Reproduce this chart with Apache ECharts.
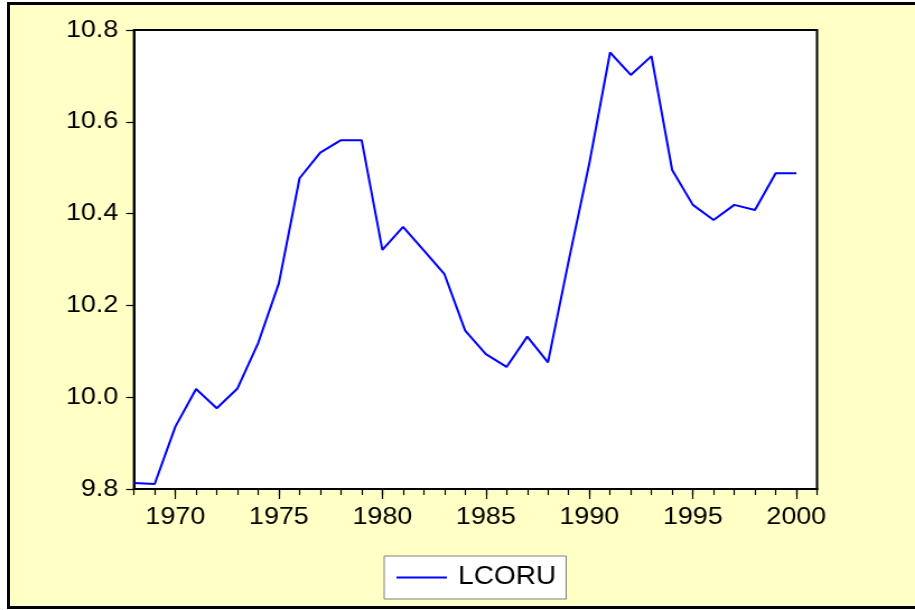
<!DOCTYPE html>
<html>
<head>
<meta charset="utf-8">
<script src="https://cdn.jsdelivr.net/npm/echarts@6/dist/echarts.min.js"></script>
<style>
  html, body { margin: 0; padding: 0; background: #ffffff; overflow: hidden; }
  #frame {
    position: absolute; left: 7px; top: 2px; width: 930px; height: 607px;
    box-sizing: border-box; border: 3px solid #000; background: #FFFFC6;
  }
  /* the chart is laid out at a narrower width and stretched horizontally */
  #chart {
    position: absolute; left: 0; top: 0; width: 817px; height: 610px;
    transform: scaleX(1.12); transform-origin: 0 0;
  }
</style>
</head>
<body>
<div id="frame"></div>
<div id="chart"></div>
<script>
// Annual observations of LCORU
const years = [1968, 1969, 1970, 1971, 1972, 1973, 1974, 1975, 1976, 1977, 1978,
  1979, 1980, 1981, 1982, 1983, 1984, 1985, 1986, 1987, 1988, 1989, 1990, 1991,
  1992, 1993, 1994, 1995, 1996, 1997, 1998, 1999, 2000];
const lcoru = [9.813, 9.811, 9.936, 10.018, 9.976, 10.019, 10.118, 10.248, 10.477,
  10.533, 10.560, 10.560, 10.321, 10.371, 10.320, 10.268, 10.145, 10.094, 10.066,
  10.132, 10.076, 10.297, 10.510, 10.751, 10.702, 10.743, 10.495, 10.419, 10.386,
  10.419, 10.408, 10.488, 10.488];
const seriesName = 'LCORU';

// axis tick labels
const xLabelYears = [1970, 1975, 1980, 1985, 1990, 1995, 2000];
const xMinorYears = [];
for (let y = 1968; y <= 2001; y++) xMinorYears.push(y);
const yMin = 9.8, yMax = 10.8, yStep = 0.2;
const xMin = 1968, xMax = 2001;

const fontFamily = '"Liberation Sans", Arial, sans-serif';
const chart = echarts.init(document.getElementById('chart'), null, { renderer: 'canvas' });

const baseX = {
  type: 'value', min: xMin, max: xMax, position: 'bottom',
  axisLine: { show: true, lineStyle: { color: '#000', width: 2 } },
  splitLine: { show: false }
};

chart.setOption({
  animation: false,
  backgroundColor: 'transparent',
  grid: {
    left: 119.6, right: 87.5, top: 30, bottom: 121,
    show: true, backgroundColor: '#ffffff', borderColor: '#000', borderWidth: 2,
    containLabel: false, outerBoundsMode: 'none'
  },
  legend: {
    data: [seriesName],
    left: 343, top: 556,
    backgroundColor: '#ffffff', borderColor: '#808080', borderWidth: 1, borderRadius: 0,
    padding: [9, 9, 9, 11],
    icon: 'rect', itemWidth: 45, itemHeight: 2,
    itemStyle: { color: '#0000ff' },
    textStyle: { fontFamily: fontFamily, fontSize: 25, color: '#000', padding: [0, 0, 0, 5] }
  },
  xAxis: [
    Object.assign({}, baseX, {
      axisTick: { show: true, inside: false, length: 10, customValues: xLabelYears,
        lineStyle: { color: '#000', width: 1.2 } },
      axisLabel: { show: true, customValues: xLabelYears, margin: 16,
        fontFamily: fontFamily, fontSize: 24, color: '#000',
        formatter: v => String(v) }
    }),
    Object.assign({}, baseX, {
      axisTick: { show: true, inside: false, length: 6, customValues: xMinorYears,
        lineStyle: { color: '#000', width: 1.2 } },
      axisLabel: { show: false }
    })
  ],
  yAxis: {
    type: 'value', min: yMin, max: yMax, interval: yStep,
    axisLine: { show: true, lineStyle: { color: '#000', width: 2 } },
    axisTick: { show: true, inside: false, length: 7, lineStyle: { color: '#000', width: 1.2 } },
    splitLine: { show: false },
    axisLabel: { margin: 14, fontFamily: fontFamily, fontSize: 24, color: '#000',
      padding: [0, 0, 3, 0],
      formatter: v => v.toFixed(1) }
  },
  series: [{
    name: seriesName, type: 'line', xAxisIndex: 0,
    data: years.map((y, i) => [y, lcoru[i]]),
    showSymbol: false, symbol: 'none',
    lineStyle: { color: '#0000ff', width: 2 },
    itemStyle: { color: '#0000ff' }
  }]
});
</script>
</body>
</html>
